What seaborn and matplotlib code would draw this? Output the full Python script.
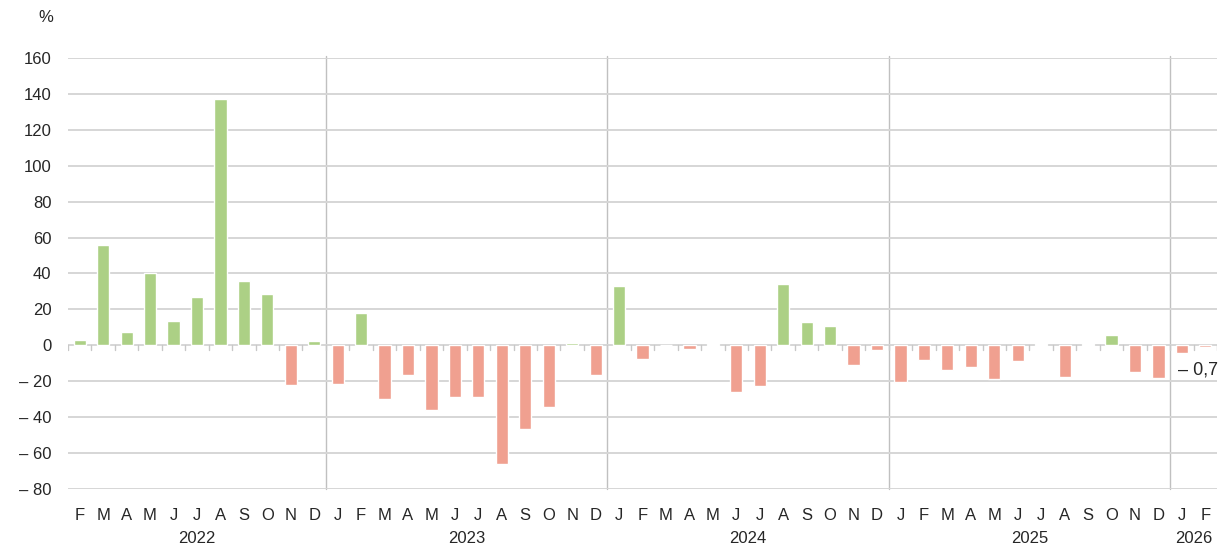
import pandas as pd
import matplotlib
matplotlib.use("Agg")
import matplotlib.pyplot as plt
import matplotlib.transforms as mtransforms
import seaborn as sns

# monthly change in %, Feb 2022 .. Feb 2026
months = ["F", "M", "A", "M", "J", "J", "A", "S", "O", "N", "D",
          "J", "F", "M", "A", "M", "J", "J", "A", "S", "O", "N", "D",
          "J", "F", "M", "A", "M", "J", "J", "A", "S", "O", "N", "D",
          "J", "F", "M", "A", "M", "J", "J", "A", "S", "O", "N", "D",
          "J", "F"]
values = [3.2, 56.0, 7.5, 40.0, 13.5, 26.7, 137.2, 35.8, 28.8, -22.0, 2.3,
          -21.8, 17.9, -30.1, -16.7, -36.2, -29.0, -29.0, -66.3, -46.8, -34.5, 1.1, -16.7,
          32.9, -7.8, 0.2, -2.2, 0.6, -26.2, -22.8, 34.2, 13.2, 10.6, -11.2, -2.8,
          -20.5, -7.9, -13.5, -11.9, -18.5, -8.5, 0.5, -17.5, 0.5, 5.6, -15.0, -18.0,
          -4.5, -0.7]
years = ["2022", "2023", "2024", "2025", "2026"]
months_per_year = [11, 12, 12, 12, 2]
last_label = "\u2013 0,7"

df = pd.DataFrame({"value": values, "month": months})
df["key"] = [f"{i:02d}" for i in range(len(df))]
df["sign"] = ["pos" if v >= 0 else "neg" for v in df["value"]]

sns.set_style("white")
plt.rcParams["font.family"] = ["Liberation Sans", "DejaVu Sans"]
plt.rcParams["font.size"] = 12

fig = plt.figure(figsize=(12.25, 5.49), dpi=100)
ax = fig.add_axes([0.0555, 0.1093, 0.938, 0.7851])

sns.barplot(data=df, x="key", y="value", hue="sign",
            palette={"pos": "#acd085", "neg": "#f0a090"},
            dodge=False, width=0.52, saturation=1, legend=False, ax=ax)

ax.set_xlim(-0.5, len(df) - 0.5)
ax.set_ylim(-80, 160)
ax.set_yticks(range(-80, 161, 20))
ax.set_yticklabels([f"\u2013 {abs(t)}" if t < 0 else str(t) for t in range(-80, 161, 20)])
ax.grid(axis="y", color="#d6d6d6", linewidth=1.4)
ax.set_axisbelow(True)
for s in ax.spines.values():
    s.set_visible(False)
ax.tick_params(axis="y", length=0, pad=12, colors="#262626", labelsize=12)
ax.tick_params(axis="x", length=0, pad=14, colors="#262626", labelsize=12)
ax.set_xticks(range(len(df)))
ax.set_xticklabels(df["month"])
ax.set_xlabel("")
ax.set_ylabel("")

# small boundary ticks on the zero line
for b in range(len(df) + 1):
    ax.plot([b - 0.5, b - 0.5], [0, -2.8], color="#c8c8c8", lw=1, zorder=1)

# year separators and year labels
trans = mtransforms.blended_transform_factory(ax.transData, ax.transAxes)
start = 0
for i, (yr, n) in enumerate(zip(years, months_per_year)):
    center = start + (n - 1) / 2
    ax.text(center, -0.115, yr, transform=trans, ha="center", va="center",
            fontsize=12, color="#262626")
    start += n
    if i < len(years) - 1:
        ax.plot([start - 0.5, start - 0.5], [0, 1.005], transform=trans,
                color="#c0c0c0", lw=1, clip_on=False, zorder=0.5)

ax.annotate(last_label, xy=(len(df) - 1, values[-1]), xytext=(9, -17),
            textcoords="offset points", ha="right", va="center",
            fontsize=13, color="#262626")

fig.text(0.037, 0.969, "%", ha="center", va="center", fontsize=12, color="#262626")

fig.savefig("out.png", dpi=100)
